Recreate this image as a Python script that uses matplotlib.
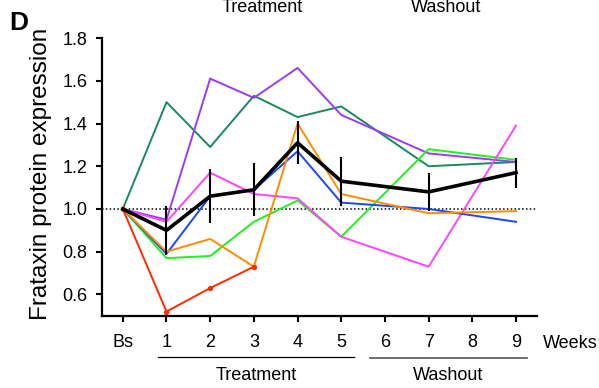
import matplotlib
matplotlib.use("Agg")
import matplotlib.pyplot as plt
import matplotlib.transforms as mtransforms

plt.rcParams["font.family"] = ["Liberation Sans", "DejaVu Sans"]

# week positions on the x axis (Bs = baseline)
tick_labels = ["Bs", "1", "2", "3", "4", "5", "6", "7", "8", "9"]
weeks = [0, 1, 2, 3, 4, 5, 7, 9]

# individual patients, relative frataxin level
pt_darkgreen = [1.0, 1.50, 1.29, 1.53, 1.43, 1.48, 1.20, 1.22]
pt_purple = [1.0, 0.95, 1.61, 1.52, 1.66, 1.44, 1.26, 1.22]
pt_green = [1.0, 0.77, 0.78, 0.94, 1.04, 0.87, 1.28, 1.23]
pt_magenta = [1.0, 0.94, 1.17, 1.07, 1.05, 0.87, 0.73, 1.39]
pt_blue = [1.0, 0.79, 1.06, 1.09, 1.27, 1.03, 1.00, 0.94]
pt_orange = [1.0, 0.80, 0.86, 0.73, 1.40, 1.07, 0.98, 0.99]
red_weeks = [0, 1, 2, 3]
pt_red = [1.0, 0.52, 0.63, 0.73]

# group mean and error
mean_vals = [1.0, 0.90, 1.06, 1.09, 1.31, 1.13, 1.08, 1.17]
mean_err = [0.0, 0.115, 0.125, 0.125, 0.10, 0.115, 0.09, 0.07]

fig = plt.figure(figsize=(5.99, 3.88), dpi=100)
ax = fig.add_axes([0.170, 0.186, 0.7265, 0.716])

lw = 1.4
ax.plot(weeks, pt_darkgreen, color="#178a5c", lw=lw)
ax.plot(weeks, pt_purple, color="#9b3cf5", lw=lw)
ax.plot(weeks, pt_green, color="#22ee22", lw=lw)
ax.plot(weeks, pt_magenta, color="#ff44ff", lw=lw)
ax.plot(weeks, pt_blue, color="#1a46ff", lw=lw)
ax.plot(weeks, pt_orange, color="#ff8c00", lw=lw)
ax.plot(red_weeks, pt_red, color="#ff2a00", lw=lw, marker="o", ms=2.8)

ax.axhline(1.0, color="black", lw=1.1, ls=(0, (1, 1.5)), zorder=1)

ax.errorbar(weeks[1:], mean_vals[1:], yerr=mean_err[1:], fmt="none",
            ecolor="black", elinewidth=1.5, capsize=0, zorder=5)
ax.plot(weeks, mean_vals, color="black", lw=2.6, zorder=6)

ax.set_xlim(-0.48, 9.48)
ax.set_ylim(0.5, 1.8)
ax.set_xticks(range(len(tick_labels)))
ax.set_xticklabels(tick_labels)
ax.set_yticks([0.6, 0.8, 1.0, 1.2, 1.4, 1.6, 1.8])
ax.set_yticklabels(["0.6", "0.8", "1.0", "1.2", "1.4", "1.6", "1.8"])
ax.tick_params(axis="both", labelsize=13, width=1.5, length=4.5, color="black")
ax.tick_params(axis="x", pad=8.5)
ax.tick_params(axis="y", pad=6)
for side in ("top", "right"):
    ax.spines[side].set_visible(False)
for side in ("left", "bottom"):
    ax.spines[side].set_linewidth(1.6)

# phase brackets under the week labels
trans = mtransforms.blended_transform_factory(ax.transData, ax.transAxes)
ax.plot([0.80, 5.29], [-0.147, -0.147], color="black", lw=0.9,
        transform=trans, clip_on=False)
ax.plot([5.65, 9.24], [-0.150, -0.150], color="#555555", lw=1.2,
        transform=trans, clip_on=False)
ax.text(3.05, -0.215, "Treatment", transform=trans, ha="center", va="center", fontsize=13)
ax.text(7.45, -0.215, "Washout", transform=trans, ha="center", va="center", fontsize=13)
weeks_trans = mtransforms.blended_transform_factory(ax.transData, fig.transFigure)
ax.text(9.61, 1 - 343 / 388, "Weeks", transform=weeks_trans,
        ha="left", va="center", fontsize=13)

fig.text(0.068, 0.552, "Frataxin protein expression", rotation=90,
         ha="center", va="center", fontsize=17.5)

# panel letters and headings carried over from the neighbouring panels
fig.text(0.016, 0.942, "D", fontsize=19, fontweight="bold", ha="left", va="center")
fig.text(0.437, 0.969, "Treatment", fontsize=13, ha="center", va="baseline")
fig.text(0.745, 0.969, "Washout", fontsize=13, ha="center", va="baseline")
fig.text(0.021, -0.059, "E", fontsize=19, fontweight="bold", ha="left", va="bottom")

fig.savefig("out.png", dpi=100)
